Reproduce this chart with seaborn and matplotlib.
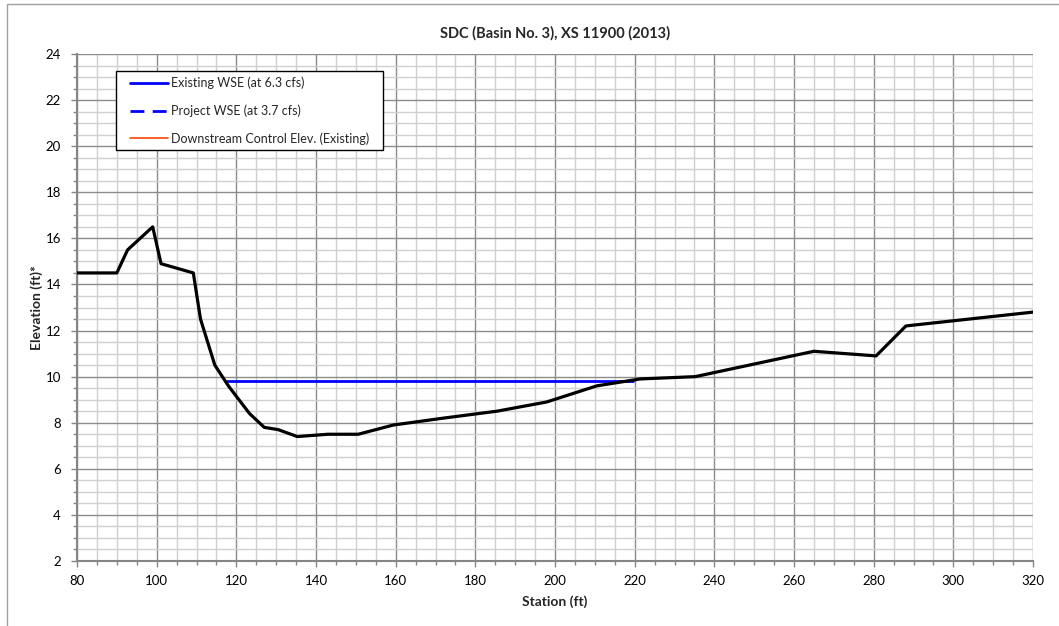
import numpy as np
import pandas as pd
import matplotlib
matplotlib.use("Agg")
import matplotlib.pyplot as plt
from matplotlib.ticker import MultipleLocator
from matplotlib.patches import Rectangle
from matplotlib.lines import Line2D
from matplotlib.legend_handler import HandlerLine2D
import seaborn as sns

# ---- data ----
ground_station = [80, 90, 92.7, 99, 101.1, 109.2, 111, 114.6, 118, 123.3, 127, 130.5,
                  135.3, 143, 150.6, 159.4, 172, 185.4, 197.9, 210.5, 221.4, 235.2,
                  265, 280.6, 288.1, 320]
ground_elev = [14.5, 14.5, 15.5, 16.5, 14.9, 14.5, 12.5, 10.5, 9.6, 8.4, 7.8, 7.7,
               7.4, 7.5, 7.5, 7.9, 8.2, 8.5, 8.9, 9.6, 9.9, 10.0,
               11.1, 10.9, 12.2, 12.8]
existing_wse_station = [117.6, 219.5]
existing_wse_elev = [9.8, 9.8]
project_wse_station = []
project_wse_elev = []
ds_control_station = []
ds_control_elev = []

title = "SDC (Basin No. 3), XS 11900 (2013)"
xlabel = "Station (ft)"
ylabel = "Elevation (ft)*"

sns.set_style("white")
plt.rcParams['font.family'] = ['Lato', 'DejaVu Sans']

fig = plt.figure(figsize=(10.59, 6.26), dpi=100)
fig.patches.append(Rectangle((7/1059, -0.1), 1.2, 1 - 4/626 + 0.1, transform=fig.transFigure,
                             fill=False, edgecolor="#a0a0a0", linewidth=1.0))
ax = fig.add_axes([77/1059, 1 - 561/626, (1033 - 77)/1059, (561 - 54)/626])

ground = pd.DataFrame({"Station": ground_station, "Elevation": ground_elev})
wse = pd.DataFrame({"Station": existing_wse_station, "Elevation": existing_wse_elev})

sns.lineplot(data=wse, x="Station", y="Elevation", ax=ax, color="#0000ff", linewidth=2.0,
             label="Existing WSE (at 6.3 cfs)", sort=False, zorder=3)
ax.plot(project_wse_station, project_wse_elev, color="#0000ff", linewidth=2.0,
        linestyle=(0, (5, 3)), label="Project WSE (at 3.7 cfs)")
ax.plot(ds_control_station, ds_control_elev, color="#ff4500", linewidth=1.2,
        label="Downstream Control Elev. (Existing)")
sns.lineplot(data=ground, x="Station", y="Elevation", ax=ax, color="black", linewidth=2.3,
             sort=False, zorder=4, legend=False)

ax.set_xlim(80, 320)
ax.set_ylim(2, 24)
ax.xaxis.set_major_locator(MultipleLocator(20))
ax.xaxis.set_minor_locator(MultipleLocator(5))
ax.yaxis.set_major_locator(MultipleLocator(2))
ax.yaxis.set_minor_locator(MultipleLocator(0.5))
ax.grid(which="minor", color="#d0d0d0", linewidth=1.0, zorder=0)
ax.grid(which="major", color="#8c8c8c", linewidth=1.0, zorder=1)
ax.set_axisbelow(True)

for s in ["left", "bottom"]:
    ax.spines[s].set_color("#868686")
    ax.spines[s].set_linewidth(1.5)
for s in ["top", "right"]:
    ax.spines[s].set_visible(False)

ax.tick_params(which="both", direction="out", color="#868686", length=4, width=1,
               bottom=True, left=True, labelsize=9.5, labelcolor="black")
ax.tick_params(which="minor", length=3)
ax.tick_params(axis="x", which="major", pad=6)
ax.tick_params(axis="y", which="major", pad=7.5)

ax.set_title(title, fontsize=10.5, fontweight="bold", pad=12)
ax.set_xlabel(xlabel, fontsize=10, fontweight="bold", labelpad=6)
ax.set_ylabel(ylabel, fontsize=10, fontweight="bold", labelpad=1.5)

h, l = ax.get_legend_handles_labels()
leg = ax.legend(h, l, loc="upper left",
                bbox_to_anchor=(0.0405, 0.3, (383 - 116) / 956, 0.666), mode="expand",
                frameon=True, fancybox=False,
                edgecolor="black", fontsize=9.0, handlelength=3.75, labelspacing=1.2,
                borderpad=0.45, borderaxespad=0, handletextpad=0.25,
                handler_map={Line2D: HandlerLine2D(xpad=0.72)})
leg.get_frame().set_linewidth(1.0)
leg.get_frame().set_facecolor("white")
leg.get_frame().set_alpha(1)
leg.set_zorder(10)

fig.savefig("out.png", dpi=100)
